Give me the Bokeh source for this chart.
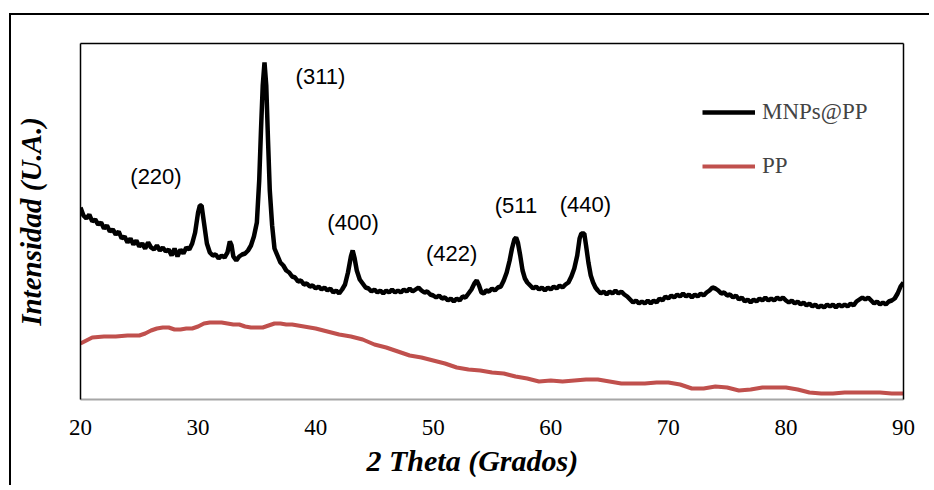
from bokeh.plotting import figure
from bokeh.models import Range1d, LinearAxis, FixedTicker, Legend, LegendItem, Title
from bokeh.core.properties import value
from bokeh.embed import file_html
from bokeh.resources import INLINE

# ---- data (intensity in arbitrary units) ----
theta_mnp = [
    20.0, 20.25, 20.5, 20.75, 21.0, 21.25, 21.5, 21.75, 22.0, 22.25, 22.5, 22.75,
    23.0, 23.25, 23.5, 23.75, 24.0, 24.25, 24.5, 24.75, 25.0, 25.25, 25.5, 25.75,
    26.0, 26.25, 26.5, 26.75, 27.0, 27.25, 27.5, 27.75, 28.0, 28.25, 28.5, 28.75,
    29.0, 29.25, 29.5, 29.75, 30.0, 30.15, 30.3, 30.5, 30.75, 31.0, 31.25, 31.5,
    31.75, 32.0, 32.25, 32.5, 32.7, 32.85, 33.0, 33.25, 33.5, 33.75, 34.0, 34.25,
    34.5, 34.75, 35.0, 35.2, 35.35, 35.5, 35.65, 35.8, 35.95, 36.1, 36.3, 36.5,
    36.75, 37.0, 37.25, 37.5, 37.75, 38.0, 38.25, 38.5, 38.75, 39.0, 39.25, 39.5,
    39.75, 40.0, 40.25, 40.5, 40.75, 41.0, 41.25, 41.5, 41.75, 42.0, 42.25, 42.5,
    42.75, 43.0, 43.15, 43.3, 43.5, 43.75, 44.0, 44.25, 44.5, 44.75, 45.0, 45.25,
    45.5, 45.75, 46.0, 46.25, 46.5, 46.75, 47.0, 47.25, 47.5, 47.75, 48.0, 48.25,
    48.5, 48.75, 49.0, 49.25, 49.5, 49.75, 50.0, 50.25, 50.5, 50.75, 51.0, 51.25,
    51.5, 51.75, 52.0, 52.25, 52.5, 52.75, 53.0, 53.25, 53.5, 53.7, 53.9, 54.1,
    54.3, 54.5, 54.75, 55.0, 55.25, 55.5, 55.75, 56.0, 56.25, 56.5, 56.7, 56.9,
    57.05, 57.2, 57.4, 57.6, 57.8, 58.0, 58.25, 58.5, 58.75, 59.0, 59.25, 59.5,
    59.75, 60.0, 60.25, 60.5, 60.75, 61.0, 61.25, 61.5, 61.75, 62.0, 62.25, 62.45,
    62.6, 62.85, 63.0, 63.2, 63.4, 63.6, 63.8, 64.0, 64.25, 64.5, 64.75, 65.0,
    65.25, 65.5, 65.75, 66.0, 66.25, 66.5, 66.75, 67.0, 67.25, 67.5, 67.75, 68.0,
    68.25, 68.5, 68.75, 69.0, 69.25, 69.5, 69.75, 70.0, 70.25, 70.5, 70.75, 71.0,
    71.25, 71.5, 71.75, 72.0, 72.25, 72.5, 72.75, 73.0, 73.25, 73.5, 73.75, 74.0,
    74.25, 74.5, 74.75, 75.0, 75.25, 75.5, 75.75, 76.0, 76.25, 76.5, 76.75, 77.0,
    77.25, 77.5, 77.75, 78.0, 78.25, 78.5, 78.75, 79.0, 79.25, 79.5, 79.75, 80.0,
    80.25, 80.5, 80.75, 81.0, 81.25, 81.5, 81.75, 82.0, 82.25, 82.5, 82.75, 83.0,
    83.25, 83.5, 83.75, 84.0, 84.25, 84.5, 84.75, 85.0, 85.25, 85.5, 85.75, 86.0,
    86.25, 86.5, 86.75, 87.0, 87.25, 87.5, 87.75, 88.0, 88.25, 88.5, 88.75, 89.0,
    89.25, 89.5, 89.75, 90.0,
]
int_mnp = [
    192, 184, 181, 185, 178, 180, 175, 177, 171, 174, 168, 170,
    165, 168, 161, 163, 157, 161, 155, 159, 153, 156, 151, 157,
    152, 150, 154, 149, 152, 148, 150, 144, 151, 143, 150, 146,
    152, 150, 156, 167, 187, 194, 194, 177, 156, 147, 144, 145,
    141, 144, 142, 147, 158, 154, 143, 139, 143, 145, 146, 149,
    154, 163, 177, 219, 269, 314, 337, 314, 259, 209, 174, 151,
    144, 137, 134, 129, 127, 123, 122, 118, 119, 115, 116, 113,
    114, 111, 113, 110, 112, 109, 111, 107, 109, 106, 110, 115,
    127, 143, 149, 142, 129, 120, 116, 112, 111, 108, 110, 107,
    109, 106, 109, 107, 110, 107, 109, 107, 110, 108, 111, 108,
    110, 112, 109, 107, 108, 105, 104, 102, 104, 101, 102, 99,
    101, 98, 101, 99, 103, 102, 106, 110, 116, 119, 114, 107,
    106, 109, 108, 111, 109, 112, 113, 119, 127, 139, 151, 160,
    162, 157, 144, 129, 121, 117, 114, 111, 113, 110, 112, 109,
    112, 110, 113, 111, 114, 112, 115, 117, 123, 131, 144, 161,
    166, 166, 154, 137, 124, 117, 112, 109, 106, 108, 105, 108,
    106, 109, 106, 108, 105, 103, 100, 97, 99, 96, 98, 96,
    99, 96, 99, 97, 101, 99, 103, 101, 104, 102, 105, 103,
    106, 103, 105, 102, 105, 103, 106, 104, 107, 109, 112, 111,
    109, 106, 107, 104, 105, 102, 104, 100, 102, 98, 100, 97,
    100, 98, 101, 99, 102, 99, 101, 99, 102, 100, 102, 99,
    97, 99, 96, 98, 95, 97, 94, 96, 93, 95, 92, 94,
    92, 95, 93, 95, 92, 95, 93, 95, 93, 96, 94, 98,
    100, 102, 100, 102, 99, 96, 98, 95, 97, 95, 98, 99,
    101, 106, 113, 117,
]

theta_pp = [
    20, 20.5, 21, 22, 23, 24, 25, 25.5, 26, 26.5, 27, 27.5, 28, 28.5, 29, 29.5,
    30, 30.5, 31, 31.5, 32, 32.5, 33, 33.5, 34, 34.5, 35, 35.5, 36, 36.5, 37,
    37.5, 38, 38.5, 39, 40, 41, 42, 43, 44, 45, 46, 47, 48, 49, 50, 51, 52, 53,
    54, 55, 56, 57, 58, 59, 60, 61, 62, 63, 64, 65, 66, 67, 68, 69, 70, 71, 72,
    73, 74, 75, 76, 77, 78, 79, 80, 81, 82, 83, 84, 85, 86, 87, 88, 89, 90,
]
int_pp = [
    56, 59, 62, 63, 63, 64, 64, 66, 69, 71, 72, 72, 70, 70, 71, 71,
    73, 76, 77, 77, 77, 76, 75, 75, 73, 72, 72, 72, 74, 76, 76,
    75, 75, 74, 73, 71, 68, 65, 63, 60, 55, 52, 48, 44, 42, 39, 36, 32, 30,
    29, 27, 26, 23, 21, 18, 19, 18, 19, 20, 20, 18, 16, 16, 16, 17, 17, 15, 11,
    11, 13, 12, 9, 10, 12, 12, 12, 10, 7, 6, 6, 7, 7, 7, 7, 6, 6,
]

series_names = ["MNPs@PP", "PP"]
x_ticks = [20, 30, 40, 50, 60, 70, 80, 90]
x_title = "2 Theta (Grados)"
y_title = "Intensidad (U.A.)"

peak_labels = ["(220)", "(311)", "(400)", "(422)", "(511", "(440)"]
peak_label_x = [26.42, 40.41, 43.18, 51.56, 57.04, 62.95]
peak_label_y = [223, 323, 177, 146, 194, 195]

# ---- figure ----
p = figure(width=920, height=472, x_range=Range1d(20, 90), y_range=Range1d(0, 356),
           output_backend="svg", toolbar_location=None,
           min_border_left=69, min_border_right=28, min_border_top=28, min_border_bottom=88)
p.styles = {"margin-left": "9px", "margin-top": "13px",
            "border-left": "2px solid black", "border-top": "2px solid black"}
p.background_fill_color = "white"
p.border_fill_color = "white"
p.outline_line_color = None
p.grid.visible = False

xa = p.xaxis[0]
xa.ticker = FixedTicker(ticks=x_ticks)
xa.major_tick_line_color = None
xa.minor_tick_line_color = None
xa.major_tick_out = 0
xa.minor_tick_out = 0
xa.axis_line_color = "#A6A6A6"
xa.axis_line_width = 2
xa.major_label_text_font = "Liberation Serif"
xa.major_label_text_font_size = "23px"
xa.major_label_text_color = "black"
xa.major_label_standoff = 20

ya = p.yaxis[0]
ya.ticker = FixedTicker(ticks=[])
ya.major_tick_line_color = None
ya.minor_tick_line_color = None
ya.major_tick_out = 0
ya.minor_tick_out = 0
ya.axis_line_color = "black"
ya.axis_line_width = 1.5
ya.axis_label = y_title
ya.axis_label_text_font = "Liberation Serif"
ya.axis_label_text_font_style = "bold italic"
ya.axis_label_text_font_size = "29px"
ya.axis_label_text_color = "black"
ya.axis_label_standoff = 34

for side in ("above", "right"):
    ax = LinearAxis(ticker=FixedTicker(ticks=[]), axis_line_color="black", axis_line_width=1.5,
                    major_tick_line_color=None, minor_tick_line_color=None,
                    major_tick_out=0, minor_tick_out=0,
                    major_label_text_font_size="0px")
    p.add_layout(ax, side)

tx = Title(text=x_title, align="left", offset=286, standoff=9,
           text_font="Liberation Serif", text_font_style="bold italic",
           text_font_size="30px", text_color="black")
p.add_layout(tx, "below")

r_pp = p.line(theta_pp, int_pp, line_color="#C0504D", line_width=4)
r_mnp = p.line(theta_mnp, int_mnp, line_color="black", line_width=4.5)

p.text(x=peak_label_x, y=peak_label_y, text=peak_labels, text_align="center",
       text_baseline="middle", text_font=value("Liberation Sans"),
       text_font_size="22px", text_color="black")

legend = Legend(items=[LegendItem(label=series_names[0], renderers=[r_mnp]),
                       LegendItem(label=series_names[1], renderers=[r_pp])],
                location=(622, 218), glyph_width=53, glyph_height=30, label_height=30,
                spacing=24, padding=0, margin=0, label_standoff=7,
                label_text_font="Liberation Serif", label_text_font_size="23px",
                border_line_color=None, background_fill_alpha=0)
p.add_layout(legend, "center")

open("out.html", "w").write(file_html(p, INLINE))
